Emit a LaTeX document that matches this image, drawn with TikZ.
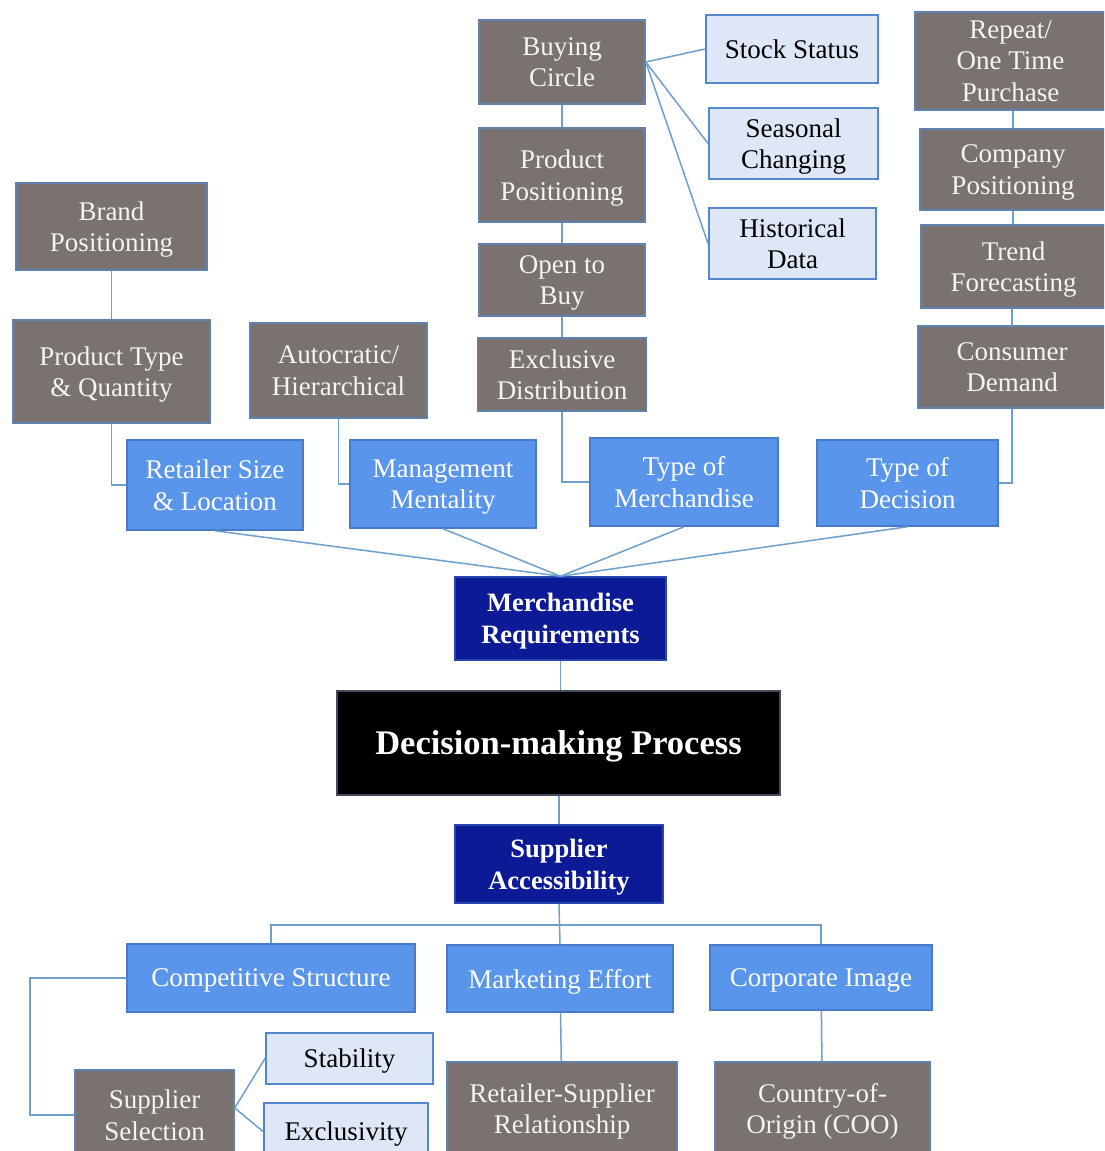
\documentclass[tikz,border=0pt]{standalone}
\usepackage{fontspec}
\setmainfont{Liberation Serif}
\definecolor{boxgray}{RGB}{121,114,112}
\definecolor{grayedge}{RGB}{95,130,175}
\definecolor{graytext}{RGB}{246,243,241}
\definecolor{lightfill}{RGB}{221,231,246}
\definecolor{lightedge}{RGB}{85,135,205}
\definecolor{midblue}{RGB}{90,149,236}
\definecolor{midedge}{RGB}{72,122,200}
\definecolor{navy}{RGB}{12,26,150}
\definecolor{navyedge}{RGB}{40,70,175}
\definecolor{blackedge}{RGB}{70,75,95}
\definecolor{linecol}{RGB}{110,160,205}
\tikzset{
  base/.style={rectangle, inner sep=2pt, align=center, line width=1.5pt,
    font=\fontsize{27}{31.5}\selectfont, text depth=0pt},
  graybox/.style={base, fill=boxgray, draw=grayedge, text=graytext},
  lightbox/.style={base, fill=lightfill, draw=lightedge, line width=2pt, text=black},
  bluebox/.style={base, fill=midblue, draw=midedge, text=white},
  navybox/.style={base, fill=navy, draw=navyedge, text=white,
    font=\bfseries\fontsize{26.5}{32}\selectfont},
  blackbox/.style={base, fill=black, draw=blackedge, text=white,
    font=\bfseries\fontsize{34.5}{40}\selectfont},
  conn/.style={draw=linecol, line width=1.5pt},
}
\begin{document}
\begin{tikzpicture}[x=1pt, y=-1pt]
\clip (0,0) rectangle (1104,1151);
\fill[white] (0,0) rectangle (1104,1151);

% top centre column
\node[graybox, minimum width=166pt, minimum height=84pt] (buy) at (562,62) {Buying\\Circle};
\node[graybox, minimum width=166pt, minimum height=94pt] (prodpos) at (562,175) {Product\\Positioning};
\node[graybox, minimum width=166pt, minimum height=72pt] (otb) at (562,280) {Open to\\Buy};
\node[graybox, minimum width=169pt, minimum height=73pt] (excl) at (562,374.5) {Exclusive\\Distribution};

\node[lightbox, minimum width=172pt, minimum height=68pt] (stock) at (792,49) {Stock Status};
\node[lightbox, minimum width=169pt, minimum height=71pt] (seas) at (793.5,143.5) {Seasonal\\Changing};
\node[lightbox, minimum width=167pt, minimum height=71pt] (hist) at (792.5,243.5) {Historical\\Data};

% right column
\node[graybox, minimum width=191pt, minimum height=98pt] (repeat) at (1010.5,61) {Repeat/\\One Time\\Purchase};
\node[graybox, minimum width=186pt, minimum height=81pt] (comp) at (1013,169.5) {Company\\Positioning};
\node[graybox, minimum width=185pt, minimum height=83pt] (trend) at (1013.5,266.5) {Trend\\Forecasting};
\node[graybox, minimum width=188pt, minimum height=82pt] (cons) at (1012,367) {Consumer\\Demand};

% left
\node[graybox, minimum width=191pt, minimum height=87pt] (brand) at (111.5,226.5) {Brand\\Positioning};
\node[graybox, minimum width=197pt, minimum height=103pt] (ptq) at (111.5,371.5) {Product Type\\\& Quantity};
\node[graybox, minimum width=177pt, minimum height=95pt] (auto) at (338.5,370.5) {Autocratic/\\Hierarchical};

% blue row
\node[bluebox, minimum width=176pt, minimum height=90pt] (ret) at (215,485) {Retailer Size\\\& Location};
\node[bluebox, minimum width=186pt, minimum height=88pt] (mgmt) at (443,484) {Management\\Mentality};
\node[bluebox, minimum width=188pt, minimum height=88pt] (tom) at (684,482) {Type of\\Merchandise};
\node[bluebox, minimum width=181pt, minimum height=86pt] (tod) at (907.5,483) {Type of\\Decision};

% centre
\node[navybox, minimum width=211pt, minimum height=83pt] (mr) at (560.5,618.5) {Merchandise\\Requirements};
\node[blackbox, minimum width=443pt, minimum height=104pt] (dmp) at (558.5,743) {Decision-making Process};
\node[navybox, minimum width=208pt, minimum height=78pt] (sa) at (559,864) {Supplier\\Accessibility};

% bottom
\node[bluebox, minimum width=288pt, minimum height=68pt] (cs) at (271,978) {Competitive Structure};
\node[bluebox, minimum width=226pt, minimum height=67pt] (me) at (560,978.5) {Marketing Effort};
\node[bluebox, minimum width=222pt, minimum height=65pt] (ci) at (821,977.5) {Corporate Image};

\node[lightbox, minimum width=167pt, minimum height=51pt] (stab) at (349.5,1058.5) {Stability};
\node[lightbox, minimum width=164pt, minimum height=57pt] (exc) at (346,1131.5) {Exclusivity};
\node[graybox, minimum width=159pt, minimum height=90pt] (ss) at (154.5,1115) {Supplier\\Selection};
\node[graybox, minimum width=230pt, minimum height=93pt] (rsr) at (562,1108.5) {Retailer-Supplier\\Relationship};
\node[graybox, minimum width=215pt, minimum height=93pt] (coo) at (822.5,1108.5) {Country-of-\\Origin (COO)};

\coordinate (bus) at (560,925);
\coordinate (kx) at (30,0);

% connectors
\begin{scope}[conn]
\draw (buy) -- (prodpos);
\draw (prodpos) -- (otb);
\draw (otb) -- (excl);
\draw (buy.east) -- (stock.west);
\draw (buy.east) -- (seas.west);
\draw (buy.east) -- (hist.west);
\draw (excl.south) |- (tom.west);

\draw (repeat.south -| comp.north) -- (comp.north);
\draw (comp.south) -- (trend.north -| comp.south);
\draw (trend.south -| cons.north) -- (cons.north);
\draw (cons.south) |- (tod.east);

\draw (brand) -- (ptq);
\draw (ptq.south) |- (ret.west);
\draw (auto.south) |- (mgmt.west);

\draw (mr.north) -- (ret.south);
\draw (mr.north) -- (mgmt.south);
\draw (mr.north) -- (tom.south);
\draw (mr.north) -- (tod.south);

\draw (mr.south) -- (dmp.north -| mr.south);
\draw (dmp.south -| sa.north) -- (sa.north);
\draw (sa.south) -- (me.north);
\draw (cs.north) |- (ci.north |- bus) -- (ci.north);

\draw (cs.west) -| (kx |- ss.west) -- (ss.west);
\draw ([yshift=7pt]ss.east) -- (stab.west);
\draw ([yshift=7pt]ss.east) -- (exc.west);
\draw (me) -- (rsr);
\draw (ci) -- (coo);
\end{scope}
\end{tikzpicture}
\end{document}
